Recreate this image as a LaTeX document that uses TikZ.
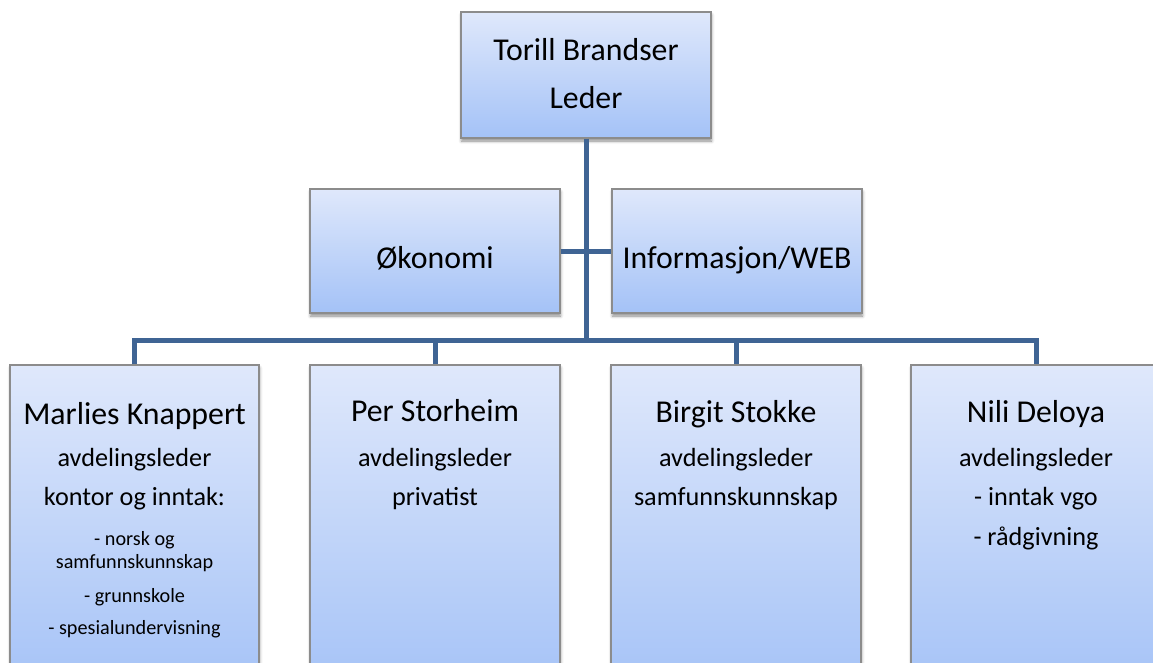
\documentclass[tikz,border=0pt]{standalone}
\usepackage{fontspec}
\setmainfont{Carlito}
\usetikzlibrary{shadows.blur}
\definecolor{boxtop}{HTML}{DFE8FB}
\definecolor{boxbot}{HTML}{A4C2F7}
\definecolor{boxedge}{HTML}{8C8C8C}
\definecolor{linecol}{HTML}{3F6494}
\tikzset{
  orgbox/.style={draw=boxedge, line width=1.2pt, top color=boxtop, bottom color=boxbot,
    inner sep=0pt, minimum width=250pt,
    blur shadow={shadow xshift=0.5pt, shadow yshift=-3pt, shadow blur radius=3pt, shadow opacity=45}},
  conn/.style={draw=linecol, line width=5pt},
  big/.style={anchor=base, font=\fontsize{31.8}{34}\selectfont},
  mid/.style={anchor=base, font=\fontsize{26.2}{30}\selectfont},
  small/.style={anchor=base, font=\fontsize{20.2}{23}\selectfont},
}
\begin{document}
\begin{tikzpicture}[x=1pt,y=-1pt]
\useasboundingbox (0,0) rectangle (1153,662);
\clip (0,0) rectangle (1153,662);
% boxes
\node[orgbox, minimum height=126pt] (top) at (586,75) {};
\node[orgbox, minimum height=124pt] (oko) at (435,251) {};
\node[orgbox, minimum height=124pt] (info) at (737,251) {};
\node[orgbox, minimum width=249pt, minimum height=330pt] (b1) at (134.5,530) {};
\node[orgbox, minimum height=330pt] (b2) at (435,530) {};
\node[orgbox, minimum height=330pt] (b3) at (736,530) {};
\node[orgbox, minimum height=330pt] (b4) at (1036,530) {};
% connectors
\coordinate (bus) at (586,340);
\draw[conn] (top.south) -- (bus);
\draw[conn] (oko.east) -- (info.west);
\draw[conn, line join=miter] (b1.north) |- (bus) -| (b4.north);
\draw[conn] (b2.north) -- (b2.north |- bus);
\draw[conn] (b3.north) -- (b3.north |- bus);
% texts
\node[big] (t1) at (586,60) {Torill Brandser};
\node[big] (t2) at (586,108) {Leder};
\node[big] (o1) at (435,268) {Økonomi};
\node[big] (i1) at (737,268) {Informasjon/WEB};
\node[big] (m1) at (134.5,424) {Marlies Knappert};
\node[mid] (m2) at (134.5,466) {avdelingsleder};
\node[mid] (m3) at (134.5,505) {kontor og inntak:};
\node[small] (m4) at (134.5,545) {- norsk og};
\node[small] (m5) at (134.5,568) {samfunnskunnskap};
\node[small] (m6) at (134.5,602) {- grunnskole};
\node[small] (m7) at (134.5,634) {- spesialundervisning};
\node[big] (p1) at (435,421) {Per Storheim};
\node[mid] (p2) at (435,466) {avdelingsleder};
\node[mid] (p3) at (435,505) {privatist};
\node[big] (s1) at (736,422) {Birgit Stokke};
\node[mid] (s2) at (736,466) {avdelingsleder};
\node[mid] (s3) at (736,505) {samfunnskunnskap};
\node[big] (n1) at (1036,422) {Nili Deloya};
\node[mid] (n2) at (1036,466) {avdelingsleder};
\node[mid] (n3) at (1036,505) {- inntak vgo};
\node[mid] (n4) at (1036,545) {- rådgivning};
\end{tikzpicture}
\end{document}
